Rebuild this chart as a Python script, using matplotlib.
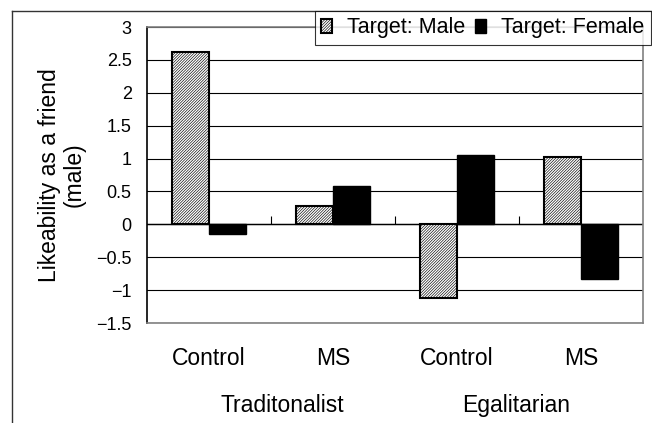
import numpy as np
import matplotlib
matplotlib.use('Agg')
import matplotlib.pyplot as plt
from matplotlib.ticker import FuncFormatter, MultipleLocator
from matplotlib.lines import Line2D

# Data
categories = ['Control', 'MS', 'Control', 'MS']
groups = ['Traditonalist', 'Egalitarian']
male = [2.62, 0.28, -1.12, 1.02]
female = [-0.14, 0.58, 1.05, -0.83]
series_names = ['Target: Male', 'Target: Female']

plt.rcParams['font.family'] = ['Liberation Sans', 'DejaVu Sans']
plt.rcParams['hatch.linewidth'] = 0.45

W, H = 652, 423
fig = plt.figure(figsize=(W / 100, H / 100), dpi=100)
ax = fig.add_axes([147 / W, 1 - 323 / H, 496 / W, 296 / H])

x = np.arange(len(categories))
bw = 0.296
ax.bar(x - bw / 2, male, bw, facecolor='white', edgecolor='black',
       linewidth=1.5, hatch='/' * 12, label=series_names[0], zorder=3)
ax.bar(x + bw / 2, female, bw, facecolor='black', edgecolor='black',
       linewidth=1.0, label=series_names[1], zorder=3)

# axes / grid
ax.set_xlim(-0.5, len(categories) - 0.5)
ax.set_ylim(-1.5, 3)
ax.yaxis.set_major_locator(MultipleLocator(0.5))
ax.yaxis.set_major_formatter(FuncFormatter(
    lambda v, p: ('%g' % v).replace('-', '\u2212')))
ax.grid(axis='y', color='black', linewidth=0.8, zorder=1)
ax.set_axisbelow(True)
for side in ['top', 'right', 'bottom']:
    ax.spines[side].set_color('#808080')
    ax.spines[side].set_linewidth(1.2)
ax.spines['left'].set_color('black')
ax.spines['left'].set_linewidth(1.2)
ax.tick_params(axis='y', length=0, pad=11, labelsize=13)
ax.set_xticks(x)
ax.set_xticklabels(categories)
ax.tick_params(axis='x', length=0, pad=17, labelsize=16.5)

# category axis at zero with boundary ticks
ax.axhline(0, color='black', linewidth=1.0, zorder=2)
ax.vlines(x[:-1] + 0.5, 0, 0.12, color='black', linewidth=0.8, zorder=2)

# group labels
gpos = [0.59, 2.48]
for g, gx in zip(groups, gpos):
    ax.text(gx, -0.28, g, transform=ax.get_xaxis_transform(),
            ha='center', va='center', fontsize=16.5)

# y label
fig.text(62 / W, 1 - 175 / H, 'Likeability as a friend\n(male)',
         rotation=90, ha='center', va='center', fontsize=16.5,
         multialignment='center', linespacing=1.1)

# legend
leg = fig.legend(loc='upper left', bbox_to_anchor=(315 / W, 1 - 11 / H),
                 bbox_transform=fig.transFigure, ncol=2, fontsize=15.5,
                 frameon=True, fancybox=False, handlelength=0.5,
                 handleheight=0.6, handletextpad=0.7, columnspacing=0.45,
                 borderpad=0.3, borderaxespad=0)
leg.get_frame().set_edgecolor('black')
leg.get_frame().set_linewidth(0.8)

# outer chart frame (clipped at right and bottom)
fig.add_artist(Line2D([12 / W, 1.0], [1 - 11 / H, 1 - 11 / H],
                      transform=fig.transFigure, color='#333333', linewidth=1.0))
fig.add_artist(Line2D([12 / W, 12 / W], [1 - 11 / H, 0.0],
                      transform=fig.transFigure, color='#333333', linewidth=1.0))

fig.savefig('out.png', dpi=100)
